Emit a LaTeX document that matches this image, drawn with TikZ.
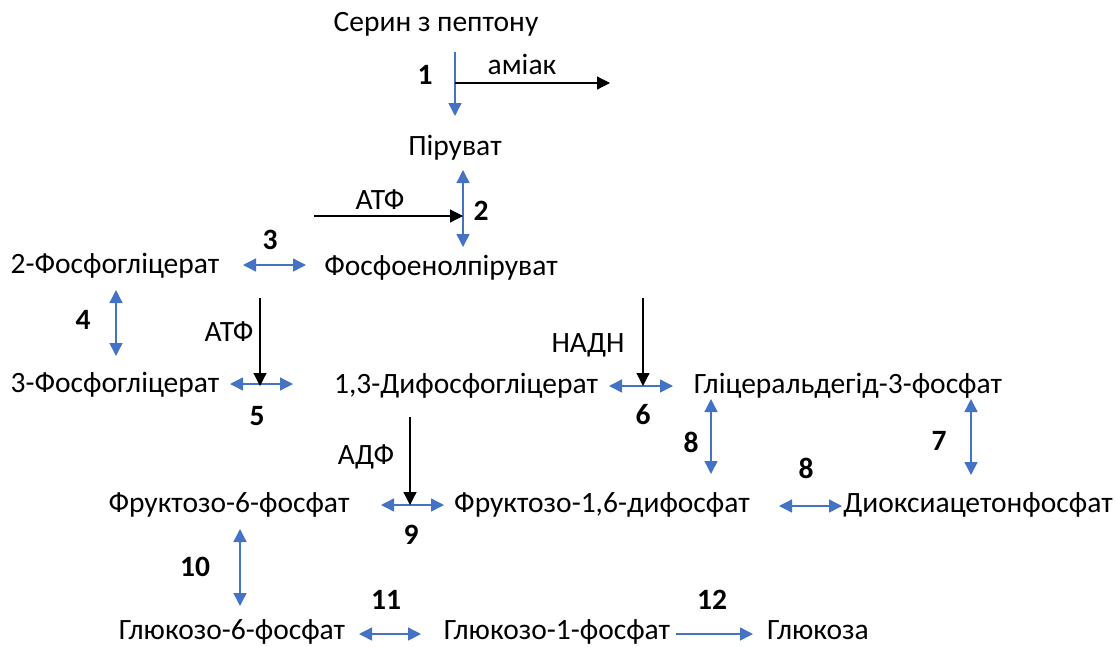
\documentclass[tikz,border=0pt]{standalone}
\usepackage{fontspec}
\setmainfont{Carlito}
\usetikzlibrary{arrows.meta}
\definecolor{obl}{HTML}{4472C4}
\tikzset{
  lbl/.style={inner sep=0pt, anchor=center, font=\fontsize{29.5}{34}\selectfont},
  num/.style={inner sep=0pt, anchor=center, font=\fontsize{29.5}{34}\selectfont\bfseries},
  bdbl/.style={draw=obl, line width=1.4pt, {Triangle[length=13pt,width=13pt]}-{Triangle[length=13pt,width=13pt]}},
  bone/.style={draw=obl, line width=1.4pt, -{Triangle[length=13pt,width=13pt]}},
  kone/.style={draw=black, line width=1.2pt, -{Triangle[length=13pt,width=13pt]}}
}
\begin{document}
\begin{tikzpicture}[x=1pt,y=-1pt]
\useasboundingbox (0,0) rectangle (1115,646);
% nodes
\node[lbl] (ser) at (436,24) {Серин з пептону};
\node[lbl] (amiak) at (522,64) {аміак};
\node[num] (n1) at (425,75) {1};
\node[lbl] (pir) at (455,148) {Піруват};
\node[lbl] (atf1) at (380,200) {АТФ};
\node[num] (n2) at (481,211) {2};
\node[num] (n3) at (270,240) {3};
\node[lbl] (fg2) at (115,266) {2-Фосфогліцерат};
\node[lbl] (pep) at (441,268) {Фосфоенолпіруват};
\node[num] (n4) at (83,320) {4};
\node[lbl] (atf2) at (229,332) {АТФ};
\node[lbl] (nadh) at (588,345) {НАДН};
\node[lbl] (fg3) at (115,385) {3-Фосфогліцерат};
\node[lbl] (dfg) at (466,386) {1,3-Дифосфогліцерат};
\node[lbl] (gap) at (848,386) {Гліцеральдегід-3-фосфат};
\node[num] (n5) at (257,416) {5};
\node[num] (n6) at (643,415) {6};
\node[num] (n8a) at (691,442) {8};
\node[num] (n7) at (939,441) {7};
\node[lbl] (adf) at (366,457) {АДФ};
\node[num] (n8b) at (806,468) {8};
\node[lbl] (f6f) at (229,505) {Фруктозо-6-фосфат};
\node[lbl] (fdf) at (602,505) {Фруктозо-1,6-дифосфат};
\node[lbl] (dhap) at (978,505) {Диоксиацетонфосфат};
\node[num] (n9) at (411,535) {9};
\node[num] (n10) at (195,567) {10};
\node[num] (n11) at (386,600) {11};
\node[num] (n12) at (712,600) {12};
\node[lbl, anchor=base] (g6f) at (232,639) {Глюкозо-6-фосфат};
\node[lbl, anchor=base] (g1f) at (557,639) {Глюкозо-1-фосфат};
\node[lbl, anchor=base] (glc) at (818,639) {Глюкоза};
% connector end points
\coordinate (a1s) at (455,52);  \coordinate (a1e) at (455,116);
\coordinate (am) at (455,83);   \coordinate (ame) at (610,83);
\coordinate (a2s) at (463,170); \coordinate (a2e) at (463,247);
\coordinate (t1s) at (314,216); \coordinate (t1e) at (463,216);
\coordinate (a3s) at (243,265); \coordinate (a3e) at (306,265);
\coordinate (a4s) at (116,290); \coordinate (a4e) at (116,356);
\coordinate (t2s) at (260,298); \coordinate (t2e) at (260,386);
\coordinate (a5s) at (230,384); \coordinate (a5e) at (293,384);
\coordinate (t3s) at (643,298); \coordinate (t3e) at (643,386);
\coordinate (a6s) at (609,386); \coordinate (a6e) at (673,386);
\coordinate (a8s) at (711,399); \coordinate (a8e) at (711,474);
\coordinate (a7s) at (971,399); \coordinate (a7e) at (971,475);
\coordinate (b8s) at (779,506); \coordinate (b8e) at (842,506);
\coordinate (t4s) at (410,417); \coordinate (t4e) at (410,505);
\coordinate (a9s) at (381,505); \coordinate (a9e) at (444,505);
\coordinate (a10s) at (240,529); \coordinate (a10e) at (240,606);
\coordinate (a11s) at (359,634); \coordinate (a11e) at (421,634);
\coordinate (a12s) at (676,634); \coordinate (a12e) at (753,634);
% connectors
\draw[bone] (a1s) -- (a1e);
\draw[kone] (am) -- (ame);
\draw[bdbl] (a2s) -- (a2e);
\draw[kone] (t1s) -- (t1e);
\draw[bdbl] (a3s) -- (a3e);
\draw[bdbl] (a4s) -- (a4e);
\draw[bdbl] (a5s) -- (a5e);
\draw[kone] (t2s) -- (t2e);
\draw[bdbl] (a6s) -- (a6e);
\draw[kone] (t3s) -- (t3e);
\draw[bdbl] (a8s) -- (a8e);
\draw[bdbl] (a7s) -- (a7e);
\draw[bdbl] (b8s) -- (b8e);
\draw[bdbl] (a9s) -- (a9e);
\draw[kone] (t4s) -- (t4e);
\draw[bdbl] (a10s) -- (a10e);
\draw[bdbl] (a11s) -- (a11e);
\draw[bone] (a12s) -- (a12e);
\end{tikzpicture}
\end{document}
